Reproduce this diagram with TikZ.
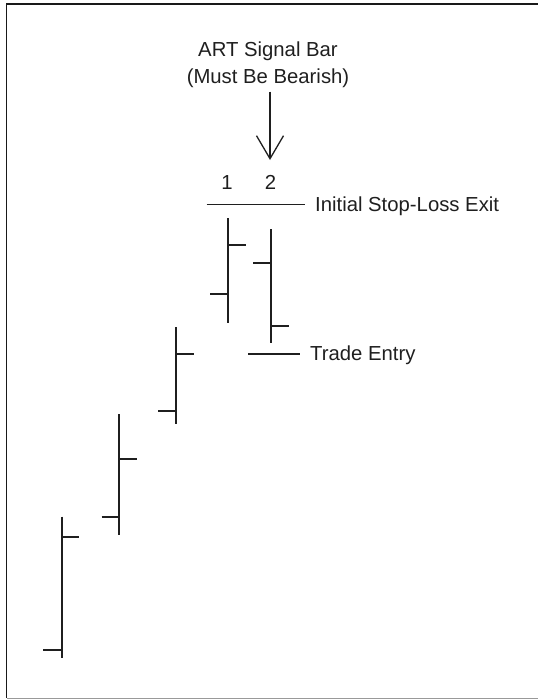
\documentclass[tikz,border=0pt]{standalone}
\usepackage{fontspec}
\setmainfont{Liberation Sans}
\usetikzlibrary{arrows.meta}
\tikzset{
  lbl/.style={font=\fontsize{20.3}{24}\selectfont, inner sep=0pt, text=black!88},
  barline/.style={line width=2.3pt, draw=black!88},
  guide/.style={line width=1.2pt, draw=black!88},
  sigarrow/.style={line width=1.3pt, draw=black!88, -{Straight Barb[length=23pt,width=27pt,line width=1.3pt]}},
}
\begin{document}
\begin{tikzpicture}[x=1pt,y=-1pt]
\useasboundingbox (0,0) rectangle (538,699);
% frame
\draw[line width=1.5pt, black!90] (538,4) -- (6.7,4) -- (6.7,698);
\draw[line width=1pt, black!40] (6.7,698) -- (538,698);

% title
\node[lbl, anchor=base] (title1) at (268,56.7) {ART Signal Bar};
\node[lbl, anchor=base] (title2) at (268,83) {(Must Be Bearish)};
\coordinate (arrowstart) at (270,91.7);
\coordinate (arrowtip) at (270,160);
\draw[sigarrow] (arrowstart) -- (arrowtip);

% bar numbers
\node[lbl, anchor=base] (n1) at (227,189) {1};
\node[lbl, anchor=base] (n2) at (270.5,189) {2};

% stop-loss line
\node[lbl, anchor=base west] (stoplbl) at (315,211.7) {Initial Stop-Loss Exit};
\coordinate (stopstart) at (206.7,204.3);
\coordinate (stopend) at (305,204.3);
\draw[guide] (stopstart) -- (stopend);

% trade entry line
\node[lbl, anchor=base west] (entrylbl) at (310,360.7) {Trade Entry};
\coordinate (entrystart) at (248.3,354);
\coordinate (entryend) at (300,354);
\draw[guide] (entrystart) -- (entryend);

% bars: (x, top, bottom, open y, open left x, close y, close right x)
\foreach \x/\t/\b/\oy/\ox/\cy/\cx in {
  61.7/516.7/658.3/650/43.3/537.3/79.3,
  119.3/414.3/535/516.7/101.7/459.3/137.3,
  176/327.3/424.3/410.7/158.3/354.3/194,
  228.3/218.3/323.3/294/210/245/246,
  271/229.3/342.7/262.7/253.3/325.7/289}{
  \draw[barline] (\x,\t) -- (\x,\b);
  \draw[barline] (\ox,\oy) -- (\x,\oy);
  \draw[barline] (\x,\cy) -- (\cx,\cy);
}
\end{tikzpicture}
\end{document}
